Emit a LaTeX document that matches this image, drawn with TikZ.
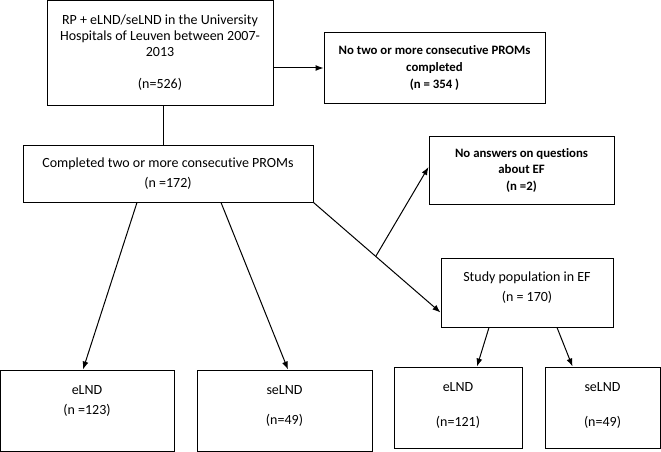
\documentclass[tikz,border=0pt]{standalone}
\usepackage{fontspec}
\setmainfont{Carlito}[Ligatures=NoCommon]
\usepackage{tikz}
\usetikzlibrary{arrows.meta,positioning}

\begin{document}
\begin{tikzpicture}[
    x=1pt, y=-1pt,
    box/.style={rectangle, draw, line width=1pt, inner sep=0pt, align=center,
      font=\fontsize{14}{20}\selectfont},
    boldbox/.style={box, font=\fontsize{12.8}{17}\selectfont\bfseries},
    arr/.style={-{Latex[length=8pt,width=6pt]}, line width=1pt},
    link/.style={line width=1pt}
  ]
    \useasboundingbox (0,0) rectangle (661,452);

    % Boxes
    \node[box, minimum width=226pt, minimum height=104pt] (recruit) at (160,53)
      {RP + eLND/seLND in the University\\[-4pt]Hospitals of Leuven between 2007-\\[-4pt]2013\\[12pt](n=526)};
    \node[boldbox, minimum width=221pt, minimum height=70pt] (noprom) at (434.5,68)
      {No two or more consecutive PROMs\\completed\\(n = 354 )};
    \node[box, minimum width=290pt, minimum height=57pt] (complete) at (168,173.5)
      {Completed two or more consecutive PROMs\\(n =172)};
    \node[boldbox, minimum width=185pt, minimum height=68pt] (noanswer) at (521.5,170)
      {No answers on questions\\[-0.5pt]about EF\\[-0.5pt](n =2)};
    \node[box, minimum width=172pt, minimum height=69pt] (study) at (527,292.5)
      {Study population in EF\\(n = 170)\\[-9pt]\mbox{}};

    \node[box, minimum width=174pt, minimum height=81pt] (elnd) at (87,410.5)
      {eLND\\(n =123)\\\mbox{}};
    \node[box, minimum width=175pt, minimum height=81pt] (selnd) at (284.5,410.5)
      {seLND\\[10pt](n=49)\\[-10pt]\mbox{}};
    \node[box, minimum width=128pt, minimum height=81pt] (elndef) at (458,407.5)
      {eLND\\[15pt](n=121)\\[-14pt]\mbox{}};
    \node[box, minimum width=115pt, minimum height=81pt] (selndef) at (602.5,407.5)
      {seLND\\[15pt](n=49)\\[-14pt]\mbox{}};

    % Connectors
    \draw[arr] (recruit.east |- noprom.west) -- (noprom.west);
    \draw[link] ([xshift=3pt]recruit.south) -- ([xshift=3pt]recruit.south |- complete.north);
    \draw[arr] ([xshift=-31pt]complete.south) -- ([xshift=-4pt]elnd.north);
    \draw[arr] ([xshift=53pt]complete.south) -- ([xshift=3.5pt]selnd.north);
    \draw[arr] (complete.south east) -- coordinate[pos=0.49] (split) ([yshift=-20pt]study.west);
    \draw[arr] (split) -- ([yshift=3pt]noanswer.west);
    \draw[arr] ([xshift=-38pt]study.south) -- ([xshift=19pt]elndef.north);
    \draw[arr] ([xshift=30pt]study.south) -- ([xshift=-30pt]selndef.north);
  \end{tikzpicture}
\end{document}
